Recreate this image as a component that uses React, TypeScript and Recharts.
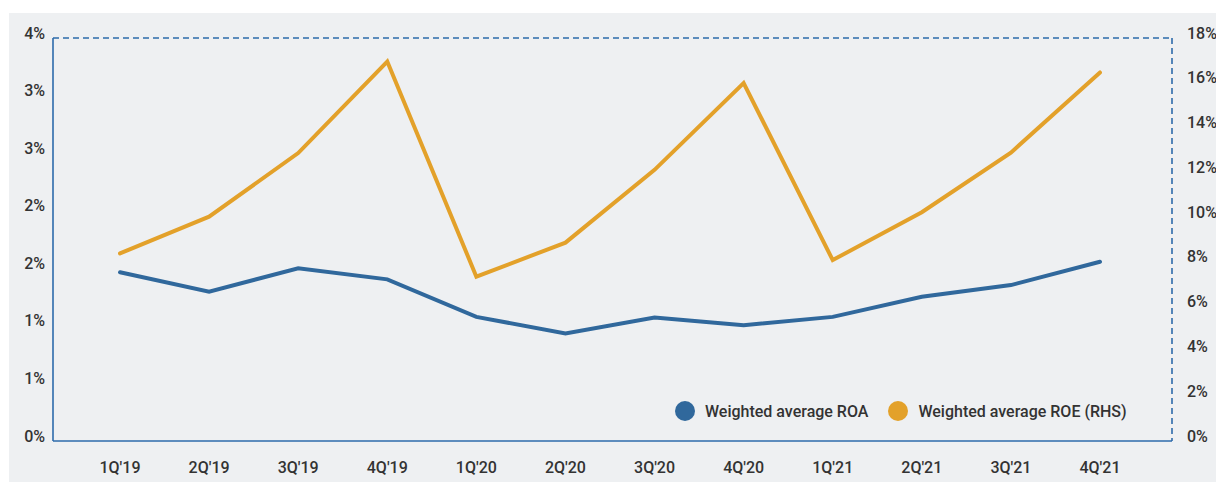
import React from 'react';
import { LineChart, Line, XAxis, YAxis, Legend, ReferenceLine } from 'recharts';

const quarters = ["1Q'19", "2Q'19", "3Q'19", "4Q'19", "1Q'20", "2Q'20", "3Q'20", "4Q'20", "1Q'21", "2Q'21", "3Q'21", "4Q'21"];
const roa = [1.465, 1.296, 1.5, 1.404, 1.078, 0.934, 1.073, 1.006, 1.078, 1.252, 1.354, 1.557];
const roe = [8.38, 10.02, 12.86, 16.95, 7.34, 8.86, 12.11, 15.99, 8.08, 10.22, 12.88, 16.46];
const leftTicks = [0, 0.5, 1, 1.5, 2, 2.5, 3, 3.5];
const rightTicks = [0, 2, 4, 6, 8, 10, 12, 14, 16, 18];

const BLUE = '#30689c';
const ORANGE = '#e3a12a';
const AXIS = '#2d6bab';
const TEXT = '#333333';
const FONT = 'Roboto, "Noto Sans", sans-serif';

const data = quarters.map((q, i) => ({ quarter: q, roa: roa[i], roe: roe[i] }));

// labels sit a few px above their tick in the original
const LeftTick = (props: any) => (
  <text x={props.x} y={props.y - 5} textAnchor="end" dominantBaseline="central" fill={TEXT} fontSize={16} fontWeight={500} fontFamily={FONT}>
    {`${Math.round(props.payload.value)}%`}
  </text>
);

const RightTick = (props: any) => (
  <text x={props.x + 7} y={props.y - 5} textAnchor="start" dominantBaseline="central" fill={TEXT} fontSize={16} fontWeight={500} fontFamily={FONT}>
    {`${props.payload.value}%`}
  </text>
);

const BottomTick = (props: any) => (
  <text x={props.x} y={props.y + 18} textAnchor="middle" dominantBaseline="central" fill={TEXT} fontSize={16} fontWeight={500} fontFamily={FONT}>
    {props.payload.value}
  </text>
);

const legendItems = [
  { label: 'Weighted average ROA', color: BLUE },
  { label: 'Weighted average ROE (RHS)', color: ORANGE },
];

const LegendContent = () => (
  <div style={{ display: 'flex', alignItems: 'center', fontFamily: FONT, fontSize: 16, fontWeight: 500, color: TEXT }}>
    {legendItems.map((it, i) => (
      <div key={it.label} style={{ display: 'flex', alignItems: 'center', marginLeft: i === 0 ? 0 : 20 }}>
        <span style={{ width: 20, height: 20, borderRadius: 10, background: it.color, display: 'inline-block', marginRight: 10 }} />
        <span style={{ whiteSpace: 'nowrap' }}>{it.label}</span>
      </div>
    ))}
  </div>
);

export default function App() {
  return (
    <div style={{ position: 'absolute', left: 0, top: 0, width: 1216, height: 482, background: '#ffffff' }}>
      <div style={{ position: 'absolute', left: 9, top: 13, width: 1207, height: 469, background: '#eef0f2' }}>
        <LineChart width={1207} height={469} data={data} margin={{ top: 25, right: 0, bottom: 0, left: 0 }}>
          <XAxis
            dataKey="quarter"
            height={41}
            padding={{ left: 67, right: 72 }}
            tickLine={false}
            axisLine={{ stroke: AXIS, strokeWidth: 1.6 }}
            tick={<BottomTick />}
            interval={0}
          />
          <YAxis
            yAxisId="left"
            width={44}
            domain={[0, 3.5]}
            ticks={leftTicks}
            tickLine={false}
            axisLine={{ stroke: AXIS, strokeWidth: 1.6 }}
            tick={<LeftTick />}
            interval={0}
          />
          <YAxis
            yAxisId="right"
            orientation="right"
            width={44}
            domain={[0, 18]}
            ticks={rightTicks}
            tickLine={false}
            axisLine={{ stroke: AXIS, strokeWidth: 1.6, strokeDasharray: '6 4' }}
            tick={<RightTick />}
            interval={0}
          />
          <ReferenceLine yAxisId="left" y={3.5} stroke={AXIS} strokeWidth={1.6} strokeDasharray="6 4" />
          <Legend
            layout="horizontal"
            verticalAlign="middle"
            align="center"
            content={<LegendContent />}
            wrapperStyle={{ left: 666, top: 388, width: 'auto', height: 20 }}
          />
          <Line yAxisId="left" type="linear" dataKey="roa" stroke={BLUE} strokeWidth={4} strokeLinecap="round" dot={false} isAnimationActive={false} />
          <Line yAxisId="right" type="linear" dataKey="roe" stroke={ORANGE} strokeWidth={4} strokeLinecap="round" dot={false} isAnimationActive={false} />
        </LineChart>
      </div>
    </div>
  );
}
